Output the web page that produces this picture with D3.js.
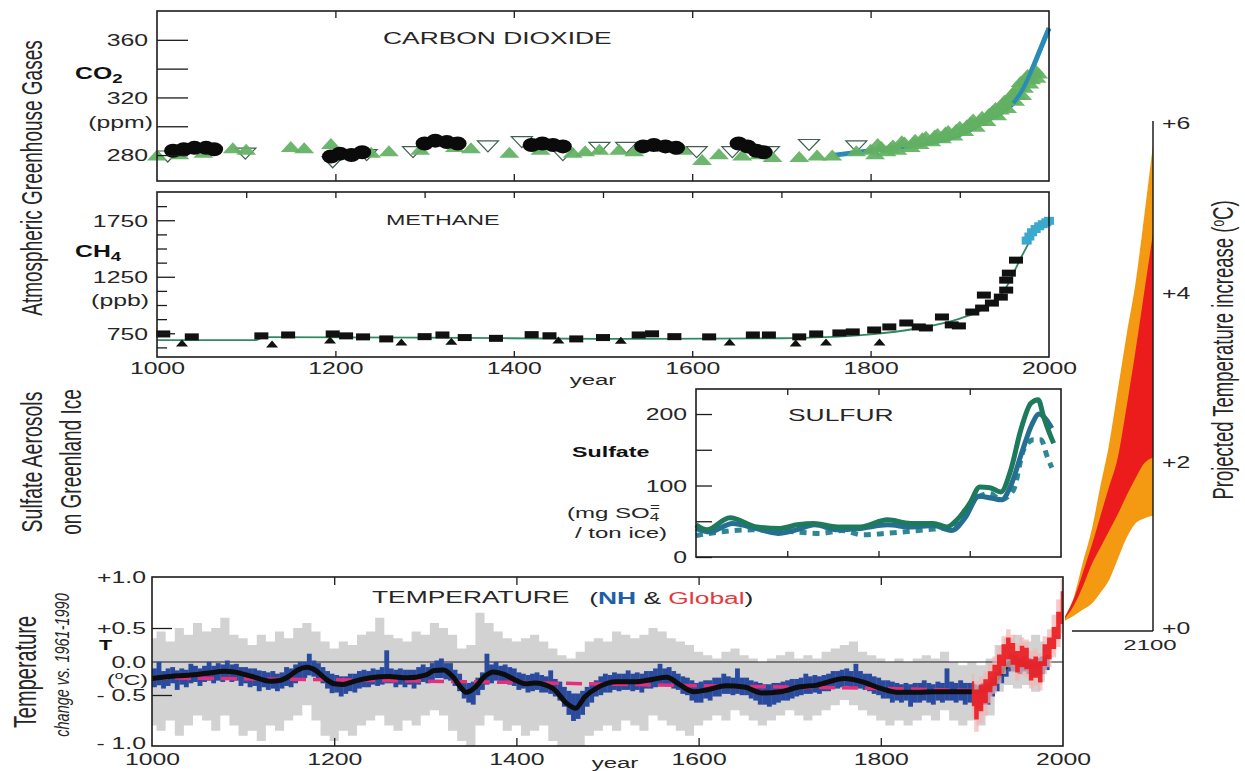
<!DOCTYPE html>
<html><head><meta charset="utf-8">
<script src="https://cdn.jsdelivr.net/npm/d3@7"></script>
<style>
body{margin:0;background:#fff;}
svg{display:block;font-family:"Liberation Sans",Arial,Helvetica,sans-serif;}
</style></head><body>
<svg id="c" width="1245" height="771"></svg>
<script>
// ================= DATA =================
// CO2 (ppm)
const co2Ice = [[1018,283],[1030,284],[1042,285],[1055,285],[1064,284],
  [1195,279],[1205,281],[1218,280],[1230,282],
  [1300,288],[1312,290],[1325,289],[1337,288],
  [1420,287],[1432,288],[1444,287],[1455,286],
  [1545,286],[1557,287],[1570,286],[1582,285],
  [1652,288],[1662,286],[1672,283],[1680,282]];
const co2Firn = [[1000,280],[1025,281],[1052,282],[1085,285],[1100,284],[1150,286],[1165,285],[1195,288],[1240,282],[1260,283],
  [1295,284],[1334,286],[1352,285],[1395,282],[1430,284],[1466,282],[1480,283],[1496,284],[1518,284],[1535,283],
  [1571,286],[1590,284],[1611,277],[1630,281],[1656,280],[1675,281],[1690,279],[1720,279],[1740,280],[1757,280],[1784,283],
  [1800,284],[1805,281],[1808,288],[1812,286],[1818,283],[1822,285],[1825,287],[1830,284],[1835,290],[1838,289],[1845,286],
  [1848,289],[1850,291],[1855,288],[1858,292],[1862,293],[1868,290],[1872,294],[1875,295],[1880,292],[1884,296],[1887,297],
  [1893,294],[1896,298],[1900,300],[1905,297],[1908,301],[1912,303],[1915,305],[1918,300],[1922,304],[1925,307],[1930,304],
  [1933,309],[1937,311],[1940,313],[1942,308],[1945,312],[1948,316],[1950,318],[1953,313],[1956,319],[1958,322],[1960,324],
  [1962,318],[1964,322],[1966,328],[1968,331],[1970,322],[1972,327],[1974,334],[1976,336],[1978,330],[1980,333],[1982,338],
  [1984,340],[1986,334],[1988,337]];
const co2Open = [[1012,279],[1099,281],[1197,275],[1235,280],[1287,282],[1371,286],[1409,289],[1455,280],[1496,285],
  [1526,285],[1605,282],[1645,282],[1686,282],[1731,287],[1784,286]];
const co2Direct = [[1760,280],[1800,283],[1830,285],[1860,288],[1890,292],[1910,297],[1930,304],[1950,311],[1960,316],
  [1970,325],[1980,338],[1990,353],[2000,368]];
const co2Ticks = [280,300,320,340,360];
const co2Labels = [280,320,360];

// CH4 (ppb)
const ch4Core = [[1007,744],[1039,718],[1117,727],[1147,735],[1197,744],[1212,727],[1231,718],[1257,700],[1300,720],[1320,735],
  [1345,712],[1380,705],[1420,738],[1440,728],[1470,700],[1500,712],[1540,735],[1555,745],[1580,720],[1619,718],[1668,735],
  [1686,735],[1720,718],[1739,744],[1765,753],[1780,762],[1804,779],[1821,806],[1840,841],[1854,806],[1862,797],[1880,894],
  [1891,824],[1899,815],[1914,938],[1925,973],[1927,1088],[1936,1017],[1946,1070],[1952,1132],[1952,1220],[1955,1282],[1963,1397]];
const ch4Tri = [[1028,664],[1129,656],[1194,690],[1274,673],[1330,680],[1450,690],[1520,688],[1642,673],[1716,664],[1750,673],[1810,673]];
const ch4Recent = [[1975,1570],[1978,1606],[1981,1644],[1985,1672],[1989,1697],[1993,1715],[1997,1732],[2000,1745]];
const ch4Fit = [[1000,690],[1110,690],[1120,715],[1300,712],[1500,700],[1700,706],[1750,715],[1800,740],[1850,790],[1900,880],
  [1925,960],[1950,1130],[1970,1440],[1985,1650],[2000,1750]];
const ch4Ticks = [625,750,875,1000,1125,1250,1375,1500,1625,1750,1875];
const ch4Labels = [750,1250,1750];
const yearLabels = [1000,1200,1400,1600,1800,2000];

// Sulfate (mg SO4 / ton ice)
const sulfGreen = [[1600,45],[1612,38],[1637,55],[1667,42],[1692,40],[1711,45],[1729,47],[1755,42],[1780,42],[1810,52],
  [1835,47],[1860,47],[1875,42],[1886,52],[1900,75],[1911,98],[1922,97],[1934,91],[1945,122],[1956,178],[1967,215],
  [1975,220],[1981,196],[1989,168],[1992,159]];
const sulfBlue = [[1600,40],[1615,35],[1640,47],[1665,40],[1690,33],[1710,38],[1730,45],[1755,38],[1780,40],[1810,45],
  [1835,42],[1860,44],[1880,37],[1895,55],[1910,85],[1925,82],[1935,80],[1945,100],[1958,150],[1968,185],[1976,200],
  [1982,195],[1990,180]];
const sulfDash = [[1600,30],[1626,35],[1662,38],[1700,36],[1736,33],[1760,37],[1782,31],[1808,33],[1850,38],[1883,42],
  [1897,70],[1922,89],[1934,80],[1948,94],[1959,150],[1970,164],[1978,164],[1985,140],[1990,125]];
const sulfTicks = [0,50,100,150,200];
const sulfLabels = [0,100,200];

// Temperature anomaly (deg C vs 1961-1990)
// NH reconstruction: [start year of 5-yr bin, lowest, highest annual value]
const nhRange = [[1000,-0.36,-0.12],[1005,-0.33,-0.02],[1010,-0.38,-0.16],[1015,-0.34,-0.12],[1020,-0.3,-0.1],[1025,-0.4,-0.15],
  [1030,-0.32,-0.12],[1035,-0.36,-0.14],[1040,-0.3,-0.05],[1045,-0.28,-0.08],[1050,-0.34,-0.12],[1055,-0.28,-0.08],
  [1060,-0.26,-0.02],[1065,-0.3,-0.08],[1070,-0.26,-0.04],[1075,-0.28,-0.06],[1080,-0.24,0.0],[1085,-0.28,-0.06],
  [1090,-0.26,-0.05],[1095,-0.34,-0.1],[1100,-0.3,-0.1],[1105,-0.36,-0.12],[1110,-0.34,-0.12],[1115,-0.42,-0.15],
  [1120,-0.36,-0.16],[1125,-0.4,-0.18],[1130,-0.38,-0.16],[1135,-0.42,-0.2],[1140,-0.38,-0.18],[1145,-0.34,-0.1],
  [1150,-0.36,-0.12],[1155,-0.3,-0.06],[1160,-0.22,-0.02],[1165,-0.22,-0.02],[1170,-0.18,0.1],[1175,-0.2,0.0],
  [1180,-0.24,-0.04],[1185,-0.3,-0.1],[1190,-0.38,-0.16],[1195,-0.45,-0.2],[1200,-0.44,-0.22],[1205,-0.5,-0.24],
  [1210,-0.46,-0.24],[1215,-0.42,-0.2],[1220,-0.44,-0.2],[1225,-0.38,-0.16],[1230,-0.36,-0.14],[1235,-0.36,-0.16],
  [1240,-0.32,-0.12],[1245,-0.34,-0.14],[1250,-0.32,-0.1],[1255,-0.3,0.15],[1260,-0.3,-0.12],[1265,-0.36,-0.14],
  [1270,-0.32,-0.12],[1275,-0.36,-0.14],[1280,-0.32,-0.14],[1285,-0.38,-0.14],[1290,-0.32,-0.1],[1295,-0.28,-0.06],
  [1300,-0.3,-0.1],[1305,-0.26,-0.04],[1310,-0.22,0.0],[1315,-0.22,0.03],[1320,-0.24,-0.04],[1325,-0.26,-0.04],
  [1330,-0.34,-0.14],[1335,-0.42,-0.2],[1340,-0.52,-0.3],[1345,-0.56,-0.34],[1350,-0.58,-0.32],[1355,-0.48,-0.26],
  [1360,-0.4,-0.18],[1365,-0.32,0.1],[1370,-0.3,-0.06],[1375,-0.26,-0.02],[1380,-0.3,-0.08],[1385,-0.3,-0.06],
  [1390,-0.32,-0.1],[1395,-0.34,-0.12],[1400,-0.4,-0.18],[1405,-0.38,-0.2],[1410,-0.44,-0.22],[1415,-0.42,-0.2],
  [1420,-0.4,-0.18],[1425,-0.44,-0.22],[1430,-0.44,-0.24],[1435,-0.46,-0.15],[1440,-0.5,-0.28],[1445,-0.54,-0.32],
  [1450,-0.6,-0.4],[1455,-0.68,-0.46],[1460,-0.74,-0.5],[1465,-0.72,-0.5],[1470,-0.68,-0.46],[1475,-0.6,-0.4],
  [1480,-0.56,-0.36],[1485,-0.5,-0.3],[1490,-0.48,-0.24],[1495,-0.44,-0.2],[1500,-0.44,-0.22],[1505,-0.4,-0.18],
  [1510,-0.42,-0.2],[1515,-0.4,-0.2],[1520,-0.4,-0.15],[1525,-0.42,-0.2],[1530,-0.4,-0.18],[1535,-0.44,-0.2],
  [1540,-0.38,-0.16],[1545,-0.38,-0.16],[1550,-0.36,-0.12],[1555,-0.34,-0.05],[1560,-0.34,-0.12],[1565,-0.32,-0.1],
  [1570,-0.38,-0.16],[1575,-0.4,-0.2],[1580,-0.46,-0.24],[1585,-0.48,-0.26],[1590,-0.54,-0.3],[1595,-0.56,-0.34],
  [1600,-0.56,-0.32],[1605,-0.52,-0.3],[1610,-0.54,-0.3],[1615,-0.5,-0.26],[1620,-0.5,-0.26],[1625,-0.46,-0.2],
  [1630,-0.46,-0.24],[1635,-0.48,-0.26],[1640,-0.46,-0.12],[1645,-0.48,-0.26],[1650,-0.48,-0.26],[1655,-0.52,-0.3],
  [1660,-0.54,-0.32],[1665,-0.58,-0.34],[1670,-0.58,-0.36],[1675,-0.6,-0.36],[1680,-0.58,-0.34],[1685,-0.56,-0.34],
  [1690,-0.54,-0.32],[1695,-0.54,-0.3],[1700,-0.52,-0.28],[1705,-0.5,-0.28],[1710,-0.48,-0.26],[1715,-0.46,-0.2],
  [1720,-0.46,-0.24],[1725,-0.44,-0.22],[1730,-0.46,-0.24],[1735,-0.42,-0.22],[1740,-0.42,-0.2],[1745,-0.38,-0.16],
  [1750,-0.38,-0.16],[1755,-0.36,-0.14],[1760,-0.34,-0.12],[1765,-0.36,-0.16],[1770,-0.36,-0.05],[1775,-0.38,-0.16],
  [1780,-0.4,-0.2],[1785,-0.42,-0.2],[1790,-0.46,-0.24],[1795,-0.48,-0.26],[1800,-0.52,-0.3],[1805,-0.52,-0.3],
  [1810,-0.56,-0.32],[1815,-0.54,-0.34],[1820,-0.56,-0.36],[1825,-0.54,-0.34],[1830,-0.6,-0.36],[1835,-0.56,-0.34],
  [1840,-0.56,-0.34],[1845,-0.54,-0.3],[1850,-0.56,-0.34],[1855,-0.58,-0.36],[1860,-0.54,-0.32],[1865,-0.56,-0.34],
  [1870,-0.54,-0.12],[1875,-0.54,-0.32],[1880,-0.56,-0.34],[1885,-0.54,-0.3],[1890,-0.58,-0.34],[1895,-0.56,-0.34],
  [1900,-0.58,-0.36],[1905,-0.62,-0.38],[1910,-0.58,-0.34],[1915,-0.58,-0.34],[1920,-0.5,-0.26],[1925,-0.42,-0.18],
  [1930,-0.3,-0.08],[1935,-0.2,0.02],[1940,-0.12,0.1],[1945,-0.12,0.08],[1950,-0.16,0.04],[1955,-0.12,0.06],
  [1960,-0.16,0.04],[1965,-0.2,0.02],[1970,-0.18,0.04],[1975,-0.16,0.06],[1980,-0.1,0.08]];
// [year, lower, upper] uncertainty envelope
const nhBand = [[1000,-0.8,0.35],[1010,-0.85,0.45],[1020,-0.75,0.3],[1030,-0.9,0.5],[1040,-0.8,0.4],[1050,-0.7,0.55],
  [1060,-0.75,0.45],[1070,-0.85,0.5],[1080,-0.7,0.6],[1090,-0.8,0.4],[1100,-0.9,0.35],[1110,-0.85,0.25],[1120,-0.95,0.4],
  [1130,-0.8,0.3],[1140,-0.85,0.45],[1150,-0.75,0.35],[1160,-0.7,0.5],[1170,-0.6,0.55],[1180,-0.75,0.45],[1190,-0.9,0.3],
  [1200,-0.95,0.2],[1210,-0.85,0.3],[1220,-0.9,0.25],[1230,-0.8,0.4],[1240,-0.75,0.45],[1250,-0.7,0.6],[1260,-0.8,0.4],
  [1270,-0.85,0.35],[1280,-0.75,0.3],[1290,-0.8,0.45],[1300,-0.7,0.4],[1310,-0.65,0.55],[1320,-0.7,0.5],[1330,-0.85,0.4],
  [1340,-0.95,0.2],[1350,-1.0,0.25],[1360,-0.8,0.65],[1370,-0.7,0.55],[1380,-0.75,0.45],[1390,-0.85,0.35],[1400,-0.8,0.3],
  [1410,-0.9,0.35],[1420,-0.85,0.4],[1430,-0.8,0.3],[1440,-0.95,0.2],[1450,-1.0,0.1],[1460,-1.05,0.05],[1470,-1.0,0.15],
  [1480,-0.9,0.3],[1490,-0.85,0.35],[1500,-0.8,0.3],[1510,-0.85,0.45],[1520,-0.75,0.4],[1530,-0.8,0.35],[1540,-0.85,0.4],
  [1550,-0.7,0.5],[1560,-0.75,0.45],[1570,-0.8,0.35],[1580,-0.85,0.3],[1590,-0.9,0.25],[1600,-0.8,0.15],[1610,-0.75,0.1],
  [1620,-0.7,0.05],[1630,-0.75,0.15],[1640,-0.65,0.2],[1650,-0.7,0.1],[1660,-0.75,0.05],[1670,-0.8,0.0],[1680,-0.75,0.05],
  [1690,-0.7,0.1],[1700,-0.65,0.15],[1710,-0.7,0.05],[1720,-0.75,0.1],[1730,-0.7,0.05],[1740,-0.65,0.15],[1750,-0.6,0.2],
  [1760,-0.55,0.25],[1770,-0.6,0.3],[1780,-0.65,0.15],[1790,-0.7,0.1],[1800,-0.75,0.05],[1810,-0.8,0.0],[1820,-0.75,0.05],
  [1830,-0.8,0.0],[1840,-0.75,0.05],[1850,-0.7,0.1],[1860,-0.75,0.05],[1870,-0.65,0.15],[1880,-0.75,0.0],[1890,-0.8,-0.05],
  [1900,-0.75,0.0],[1910,-0.8,-0.05],[1920,-0.7,0.05],[1930,-0.45,0.25],[1940,-0.35,0.35],[1950,-0.4,0.4],[1960,-0.35,0.3],
  [1970,-0.45,0.4],[1980,-0.3,0.3]];
const nhSmooth = [[1000,-0.25],[1020,-0.22],[1040,-0.2],[1060,-0.17],[1080,-0.14],[1090,-0.15],[1110,-0.22],[1130,-0.29],
  [1140,-0.28],[1150,-0.22],[1160,-0.12],[1170,-0.08],[1180,-0.13],[1190,-0.25],[1200,-0.33],[1210,-0.34],[1220,-0.3],
  [1240,-0.24],[1260,-0.22],[1280,-0.24],[1300,-0.2],[1310,-0.13],[1320,-0.12],[1330,-0.22],[1340,-0.4],[1345,-0.46],
  [1355,-0.38],[1365,-0.22],[1375,-0.15],[1385,-0.18],[1400,-0.28],[1410,-0.33],[1420,-0.32],[1440,-0.4],[1455,-0.58],
  [1465,-0.63],[1475,-0.52],[1490,-0.38],[1510,-0.3],[1530,-0.3],[1550,-0.26],[1565,-0.23],[1580,-0.35],[1595,-0.45],
  [1610,-0.42],[1630,-0.36],[1650,-0.38],[1670,-0.47],[1690,-0.45],[1710,-0.38],[1730,-0.35],[1760,-0.25],[1780,-0.3],
  [1800,-0.4],[1820,-0.46],[1840,-0.46],[1860,-0.45],[1880,-0.45],[1900,-0.45],[1915,-0.42],[1925,-0.3],[1935,-0.1],
  [1945,0.0],[1955,-0.02],[1965,-0.07],[1975,-0.03],[1980,0.0]];
const globalTrend = [[1000,-0.24],[1200,-0.27],[1400,-0.31],[1600,-0.36],[1800,-0.4],[1900,-0.43]];
const instrumental = [[1900,-0.45],[1905,-0.58],[1910,-0.5],[1915,-0.42],[1920,-0.3],[1925,-0.2],[1930,-0.05],[1935,0.1],
  [1940,0.2],[1945,0.12],[1950,0.0],[1955,0.08],[1960,0.05],[1965,-0.12],[1970,-0.08],[1975,-0.15],[1980,0.1],[1985,0.2],
  [1990,0.35],[1995,0.5],[2000,0.7]];
const tempTicks = [-1,-0.5,0,0.5,1];
const tempLabels = ["- 1.0","- 0.5","0.0","+0.5","+1.0"];

// Projection to 2100 [year, low, high]
const projOuter = [[2000,0.12,0.17],[2010,0.18,0.4],[2020,0.25,0.8],[2030,0.32,1.18],[2040,0.45,1.7],[2050,0.6,2.2],
  [2060,0.85,2.85],[2070,1.1,3.5],[2080,1.27,4.1],[2090,1.33,4.9],[2100,1.36,5.75]];
const projInner = [[2000,0.15,0.17],[2010,0.3,0.38],[2020,0.52,0.68],[2030,0.78,1.0],[2040,0.98,1.35],[2050,1.18,1.7],
  [2060,1.38,2.05],[2070,1.6,2.65],[2080,1.8,3.3],[2090,1.98,4.0],[2100,2.05,4.7]];
const projTicks = [0,2,4,6];
const projLabels = ["+0","+2","+4","+6"];

// ================= DRAWING =================
const svg = d3.select("#c");
const INK = "#1c1c1c", TXT = "#262626", SX = 1.55;

function htext(g, x, y, s, o = {}) {
  return g.append("text")
    .attr("transform", `translate(${x},${y}) scale(${o.sx || SX},1)`)
    .attr("text-anchor", o.anchor || "start")
    .attr("dominant-baseline", "central")
    .attr("font-size", o.size || 16)
    .attr("font-weight", o.weight || "normal")
    .attr("fill", o.fill || TXT)
    .text(s);
}
function vtext(g, x, y, s, o = {}) {
  return g.append("text")
    .attr("transform", `translate(${x},${y}) rotate(-90) scale(1,${o.sy || SX})`)
    .attr("text-anchor", "middle")
    .attr("font-size", o.size || 19)
    .attr("font-style", o.style || "normal")
    .attr("fill", o.fill || TXT)
    .text(s);
}
function box(x0, y0, x1, y1) {
  svg.append("rect").attr("x", x0).attr("y", y0).attr("width", x1 - x0).attr("height", y1 - y0)
    .attr("fill", "none").attr("stroke", INK).attr("stroke-width", 1.6);
}
function yAxis(scale, x, ticks, fmt, len, pad, shift) {
  const a = svg.append("g").attr("transform", `translate(${x},0)`)
    .call(d3.axisLeft(scale).tickValues(ticks).tickSize(0).tickPadding(0).tickFormat(fmt));
  a.attr("font-size", null).attr("font-family", null);
  a.select(".domain").remove();
  a.selectAll(".tick line").attr("x2", len).attr("stroke", INK).attr("stroke-width", 1.3);
  a.selectAll(".tick text").attr("x", null).attr("dy", null).attr("dominant-baseline", "central")
    .attr("transform", d => `translate(${-pad},${shift ? shift(d) : 0}) scale(${SX},1)`).attr("font-size", 16).attr("fill", TXT);
  return a;
}
function xTicks(scale, y, ticks, len, top) {
  const ax = (top ? d3.axisTop(scale) : d3.axisBottom(scale)).tickValues(ticks).tickSize(-len).tickFormat("");
  const a = svg.append("g").attr("transform", `translate(0,${y})`).call(ax);
  a.select(".domain").remove();
  a.selectAll(".tick line").attr("stroke", INK).attr("stroke-width", 1.3);
}
function xLabels(scale, y, ticks) {
  const a = svg.append("g").attr("transform", `translate(0,${y})`)
    .call(d3.axisBottom(scale).tickValues(ticks).tickSize(0).tickPadding(0).tickFormat(d3.format("d")));
  a.attr("font-size", null).attr("font-family", null);
  a.select(".domain").remove();
  a.selectAll(".tick text").attr("y", null).attr("dy", null).attr("dominant-baseline", "central")
    .attr("transform", `scale(${SX},1)`).attr("font-size", 16).attr("fill", TXT);
}
const triUp = (w, h) => `M${-w/2},${h/2}L${w/2},${h/2}L0,${-h/2}Z`;
const triDown = (w, h) => `M${-w/2},${-h/2}L${w/2},${-h/2}L0,${h/2}Z`;

// ---------- CO2 panel ----------
const xG = d3.scaleLinear().domain([1000, 2000]).range([157, 1049]);
const yCO2 = d3.scaleLinear().domain([262, 380]).range([181, 11]);
const gCO2 = svg.append("g");
gCO2.selectAll(".op").data(co2Open).join("path")
  .attr("transform", d => `translate(${xG(d[0])},${yCO2(d[1])})`).attr("d", triDown(21, 11))
  .attr("fill", "#fff").attr("stroke", "#3f5f4f").attr("stroke-width", 1.2);
gCO2.append("path").datum(co2Direct)
  .attr("d", d3.line().x(d => xG(d[0])).y(d => yCO2(d[1])).curve(d3.curveMonotoneX))
  .attr("fill", "none").attr("stroke", "#2a8ab8").attr("stroke-width", 5);
gCO2.selectAll(".fi").data(co2Firn).join("path")
  .attr("transform", d => `translate(${xG(d[0])},${yCO2(d[1])})`).attr("d", triUp(20, 11))
  .attr("fill", "#62b062").attr("opacity", 0.93);
gCO2.append("path").datum(co2Direct.filter(d => d[0] >= 1960))
  .attr("d", d3.line().x(d => xG(d[0])).y(d => yCO2(d[1])).curve(d3.curveMonotoneX))
  .attr("fill", "none").attr("stroke", "#2a8ab8").attr("stroke-width", 4);
gCO2.selectAll(".ice").data(co2Ice).join("ellipse")
  .attr("cx", d => xG(d[0])).attr("cy", d => yCO2(d[1])).attr("rx", 9).attr("ry", 7).attr("fill", "#0b0b0b");
box(157, 11, 1049, 181);
yAxis(yCO2, 157, co2Ticks, d => co2Labels.includes(d) ? d : "", 31, 9);
xTicks(xG, 11, [1200, 1400, 1600, 1800], 7, true);
xTicks(xG, 181, [1200, 1400, 1600, 1800], 7, false);
htext(svg, 383, 38, "CARBON DIOXIDE", {size: 16.5, sx: 1.6});
const co2t = htext(svg, 75, 73, "CO", {size: 16, weight: "bold", fill: "#111"});
co2t.append("tspan").attr("dy", 5).attr("font-size", 12).text("2");
htext(svg, 153, 122, "(ppm)", {anchor: "end"});

// ---------- CH4 panel ----------
const yCH4 = d3.scaleLinear().domain([540, 2000]).range([357, 192]);
const gCH4 = svg.append("g");
gCH4.append("path").datum(ch4Fit)
  .attr("d", d3.line().x(d => xG(d[0])).y(d => yCH4(d[1])).curve(d3.curveMonotoneX))
  .attr("fill", "none").attr("stroke", "#2f8a5f").attr("stroke-width", 1.8);
gCH4.selectAll(".cr").data(ch4Core).join("rect")
  .attr("x", d => xG(d[0]) - 7).attr("y", d => yCH4(d[1]) - 3.5).attr("width", 14).attr("height", 7)
  .attr("fill", "#111");
gCH4.selectAll(".ct").data(ch4Tri).join("path")
  .attr("transform", d => `translate(${xG(d[0])},${yCH4(d[1])})`).attr("d", triUp(12, 7)).attr("fill", "#111");
gCH4.selectAll(".cc").data(ch4Recent).join("rect")
  .attr("x", d => xG(d[0]) - 5).attr("y", d => yCH4(d[1]) - 4).attr("width", 10).attr("height", 8)
  .attr("fill", "#3aa9cc");
box(157, 192, 1049, 357);
yAxis(yCH4, 157, ch4Ticks, d => ch4Labels.includes(d) ? d : "", d => ch4Labels.includes(d) ? 18 : 10, 9);
xTicks(xG, 192, [1100, 1200, 1300, 1400, 1500, 1600, 1700, 1800, 1900], 6, true);
xTicks(xG, 357, [1200, 1400, 1600, 1800], 6, false);
xLabels(xG, 368, yearLabels);
htext(svg, 593, 380, "year", {anchor: "middle", size: 15.5});
htext(svg, 386, 220, "METHANE", {size: 15, sx: 1.55});
const ch4t = htext(svg, 75, 251, "CH", {size: 16, weight: "bold", fill: "#111"});
ch4t.append("tspan").attr("dy", 5).attr("font-size", 12).text("4");
htext(svg, 149, 300, "(ppb)", {anchor: "end"});

// ---------- Sulfur panel ----------
const xS = d3.scaleLinear().domain([1600, 2000]).range([696, 1061]);
const yS = d3.scaleLinear().domain([0, 235]).range([557, 389]);
const lS = d3.line().x(d => xS(d[0])).y(d => yS(d[1])).curve(d3.curveMonotoneX);
svg.append("path").datum(sulfDash).attr("d", lS).attr("fill", "none").attr("stroke", "#2f8791")
  .attr("stroke-width", 5).attr("stroke-dasharray", "7,6");
svg.append("path").datum(sulfBlue).attr("d", lS).attr("fill", "none").attr("stroke", "#246f92").attr("stroke-width", 5);
svg.append("path").datum(sulfGreen).attr("d", lS).attr("fill", "none").attr("stroke", "#1e7a5c").attr("stroke-width", 5);
box(696, 389, 1061, 557);
yAxis(yS, 696, sulfTicks, d => sulfLabels.includes(d) ? d : "", 16, 9);
xTicks(xS, 389, [1700, 1800, 1900], 6, true);
xTicks(xS, 557, [1700, 1800, 1900], 6, false);
htext(svg, 788, 415, "SULFUR", {size: 16.5, sx: 1.6});
htext(svg, 572, 452, "Sulfate", {size: 15, weight: "bold", fill: "#111"});
const so = htext(svg, 567, 513, "(mg SO", {size: 15.5});
so.append("tspan").attr("dy", 4).attr("font-size", 11).text("4");
so.append("tspan").attr("dx", -6).attr("dy", -10).attr("font-size", 11).text("=");
htext(svg, 575, 533, "/ ton ice)", {size: 15.5});

// ---------- Temperature panel ----------
const xT = d3.scaleLinear().domain([1000, 2000]).range([152, 1063]);
const yT = d3.scaleLinear().domain([-1, -0.5, 0, 0.5, 1]).range([746, 695, 662, 628, 577]);
svg.append("clipPath").attr("id", "tclip").append("rect").attr("x", 152).attr("y", 577).attr("width", 911).attr("height", 169);
const gT = svg.append("g").attr("clip-path", "url(#tclip)");
gT.append("path").datum(nhBand)
  .attr("d", d3.area().x(d => xT(d[0])).y0(d => yT(d[1])).y1(d => yT(d[2])).curve(d3.curveStep))
  .attr("fill", "#d2d2d2");
gT.append("line").attr("x1", 152).attr("x2", 1063).attr("y1", yT(0)).attr("y2", yT(0)).attr("stroke", INK).attr("stroke-width", 1.1);
gT.selectAll(".nh").data(nhRange).join("rect")
  .attr("x", d => xT(d[0])).attr("width", d => xT(d[0] + 5) - xT(d[0]) + 0.3)
  .attr("y", d => yT(d[2]) - 1.5).attr("height", d => yT(d[1]) - yT(d[2]) + 3)
  .attr("fill", "#2a4a9e");
const gR = svg.append("g");
gR.append("path").datum(instrumental)
  .attr("d", d3.area().x(d => xT(d[0])).y0(d => yT(d[1] - 0.28)).y1(d => yT(d[1] + 0.28)).curve(d3.curveStep))
  .attr("fill", "#f3b3b3").attr("opacity", 0.7);
gR.append("path").datum(instrumental)
  .attr("d", d3.area().x(d => xT(d[0])).y0(d => yT(d[1] - 0.16)).y1(d => yT(d[1] + 0.16)).curve(d3.curveStep))
  .attr("fill", "#ea1a1e").attr("opacity", 0.9);
gT.append("path").datum(globalTrend)
  .attr("d", d3.line().x(d => xT(d[0])).y(d => yT(d[1])))
  .attr("fill", "none").attr("stroke", "#e2307c").attr("stroke-width", 3.5).attr("stroke-dasharray", "16,7");
gT.append("path").datum(nhSmooth)
  .attr("d", d3.line().x(d => xT(d[0])).y(d => yT(d[1])).curve(d3.curveMonotoneX))
  .attr("fill", "none").attr("stroke", "#0d0d0d").attr("stroke-width", 5);
box(152, 577, 1063, 746);
yAxis(yT, 152, tempTicks, (d, i) => tempLabels[i], d => Math.abs(d) === 0.5 ? 20 : 0, 6, d => d === -1 ? -3 : 0);
xTicks(xT, 577, [1200, 1400, 1600, 1800], 8, true);
xTicks(xT, 746, [1200, 1400, 1600, 1800], 8, false);
xLabels(xT, 759, yearLabels);
htext(svg, 615, 763, "year", {anchor: "middle", size: 15.5});
htext(svg, 99, 645, "T", {size: 14, weight: "bold", fill: "#111"});
const degC = htext(svg, 148, 680, "(", {anchor: "end", size: 15});
degC.append("tspan").attr("dy", -5).attr("font-size", 10).text("o");
degC.append("tspan").attr("dy", 5).text("C)");
const tt = htext(svg, 372, 598, "TEMPERATURE", {size: 16, sx: 1.65});
tt.append("tspan").attr("dx", 12).text("(");
tt.append("tspan").attr("fill", "#1f5fa8").attr("font-weight", "bold").text("NH");
tt.append("tspan").text(" & ");
tt.append("tspan").attr("fill", "#e23a3f").text("Global");
tt.append("tspan").text(")");

// ---------- Projection fan ----------
const xP = d3.scaleLinear().domain([2000, 2100]).range([1065, 1153]);
const yP = d3.scaleLinear().domain([0, 6]).range([631, 123]);
const aP = d3.area().x(d => xP(d[0])).y0(d => yP(d[1])).y1(d => yP(d[2])).curve(d3.curveMonotoneX);
svg.append("path").datum(projOuter).attr("d", aP).attr("fill", "#f39a12");
svg.append("path").datum(projInner).attr("d", aP).attr("fill", "#ec1c1c");
const pa = svg.append("g").attr("transform", "translate(1153,0)")
  .call(d3.axisRight(yP).tickValues(projTicks).tickSize(0).tickPadding(0).tickFormat((d, i) => projLabels[i]));
pa.attr("font-size", null).attr("font-family", null);
pa.select(".domain").attr("stroke", INK).attr("stroke-width", 1.5).attr("d", `M0,${yP(6) - 2}V${yP(0)}`);
pa.selectAll(".tick text").attr("x", null).attr("dy", null).attr("dominant-baseline", "central")
  .attr("transform", d => `translate(9,${d === 0 ? -3 : 0}) scale(1.55,1)`).attr("font-size", 16).attr("fill", TXT);
svg.append("line").attr("x1", 1072).attr("x2", 1153).attr("y1", yP(0)).attr("y2", yP(0)).attr("stroke", INK).attr("stroke-width", 1.5);
htext(svg, 1150, 645, "2100", {anchor: "middle", size: 15.5});

// ---------- Rotated side labels ----------
vtext(svg, 42, 178, "Atmospheric Greenhouse Gases", {size: 19});
vtext(svg, 42, 462, "Sulfate Aerosols", {size: 19.5});
vtext(svg, 81, 462, "on Greenland Ice", {size: 19});
vtext(svg, 36, 672, "Temperature", {size: 20});
vtext(svg, 69, 665, "change vs. 1961-1990", {size: 14.5, style: "italic", sy: 1.4});
const pr = vtext(svg, 1233, 350, "Projected Temperature increase  (", {size: 18.5});
pr.append("tspan").attr("dy", -6).attr("font-size", 12).text("o");
pr.append("tspan").attr("dy", 6).text("C)");
</script>
</body></html>
